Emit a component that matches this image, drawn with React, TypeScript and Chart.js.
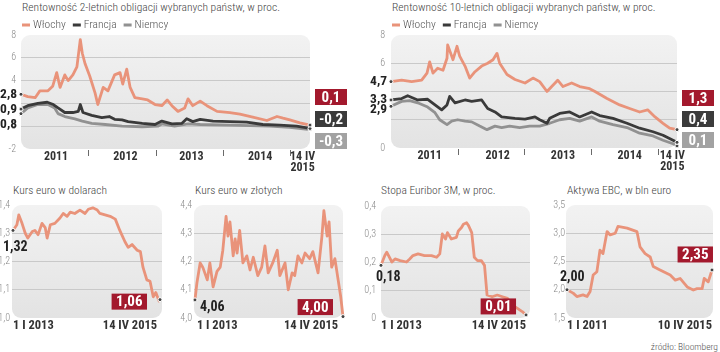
import React, { useEffect, useRef } from "react";
import { Chart, registerables } from "chart.js";

Chart.register(...registerables);

const FONT = "'Roboto Condensed', 'DejaVu Sans Condensed', sans-serif";

// ---------- colours ----------
const C_IT = "#e9937a";
const C_FR = "#3a3a3a";
const C_DE = "#919191";
const B_IT = "#a3192d";
const B_FR = "#3b3b3b";
const B_DE = "#a2a2a2";

const SERIES_LABELS = ["Włochy", "Francja", "Niemcy"];

// ---------- 2-year yields (x = fractional year, y = %) ----------
const IT2 = [
  [2011.0, 2.8], [2011.1, 2.6], [2011.21, 2.5], [2011.28, 3.1], [2011.4, 3.1], [2011.47, 3.5],
  [2011.53, 4.7], [2011.58, 3.4], [2011.65, 4.5], [2011.7, 4.0], [2011.77, 4.5], [2011.83, 5.2],
  [2011.88, 7.6], [2011.91, 6.4], [2011.95, 5.5], [2012.02, 4.4], [2012.1, 2.9], [2012.14, 1.9],
  [2012.22, 3.4], [2012.29, 3.1], [2012.39, 4.5], [2012.47, 4.7], [2012.51, 3.7], [2012.57, 5.0],
  [2012.62, 3.4], [2012.69, 2.5], [2012.8, 2.4], [2012.88, 2.3], [2012.99, 1.9], [2013.09, 1.8],
  [2013.17, 2.3], [2013.24, 1.8], [2013.33, 1.3], [2013.43, 1.6], [2013.48, 2.4], [2013.55, 1.8],
  [2013.66, 2.2], [2013.76, 1.8], [2013.91, 1.3], [2014.1, 1.2], [2014.25, 1.05], [2014.44, 0.8],
  [2014.65, 0.5], [2014.8, 0.85], [2014.89, 0.7], [2014.99, 0.55], [2015.14, 0.3], [2015.29, 0.1],
];
const FR2 = [
  [2011.0, 1.5], [2011.1, 1.8], [2011.25, 2.0], [2011.39, 2.1], [2011.48, 1.9], [2011.55, 1.6],
  [2011.65, 1.2], [2011.77, 1.2], [2011.85, 1.3], [2011.88, 1.9], [2011.92, 1.2], [2012.05, 0.95],
  [2012.2, 0.75], [2012.31, 0.85], [2012.39, 0.6], [2012.5, 0.55], [2012.59, 0.4], [2012.8, 0.25],
  [2012.99, 0.15], [2013.09, 0.45], [2013.24, 0.2], [2013.39, 0.25], [2013.46, 0.65], [2013.55, 0.4],
  [2013.66, 0.6], [2013.85, 0.45], [2014.1, 0.4], [2014.35, 0.35], [2014.59, 0.15], [2014.84, 0.1],
  [2015.09, 0.0], [2015.29, -0.2],
];
const DE2 = [
  [2011.0, 1.1], [2011.1, 1.6], [2011.25, 1.9], [2011.4, 1.9], [2011.5, 1.6], [2011.55, 1.1],
  [2011.65, 0.85], [2011.8, 0.65], [2011.91, 0.45], [2012.05, 0.25], [2012.25, 0.15], [2012.5, 0.0],
  [2012.8, -0.05], [2013.03, 0.0], [2013.09, 0.2], [2013.28, 0.0], [2013.48, 0.2], [2013.66, 0.15],
  [2014.1, 0.1], [2014.4, 0.05], [2014.69, 0.0], [2014.99, -0.1], [2015.29, -0.3],
];
const START2 = ["2,8", "0,9", "0,8"];
const END2 = ["0,1", "-0,2", "-0,3"];

// ---------- 10-year yields ----------
const IT10 = [
  [2011.0, 4.7], [2011.16, 4.8], [2011.31, 4.7], [2011.46, 4.8], [2011.54, 5.3], [2011.58, 6.1],
  [2011.63, 5.3], [2011.7, 5.65], [2011.78, 5.5], [2011.84, 6.35], [2011.85, 7.3], [2011.93, 6.25],
  [2011.99, 7.2], [2012.03, 6.5], [2012.11, 5.8], [2012.18, 4.95], [2012.26, 5.4], [2012.36, 5.8],
  [2012.45, 6.0], [2012.53, 6.25], [2012.59, 6.7], [2012.63, 6.0], [2012.74, 5.2], [2012.86, 4.85],
  [2013.01, 4.6], [2013.13, 4.95], [2013.23, 4.7], [2013.34, 4.0], [2013.5, 4.8], [2013.58, 4.35],
  [2013.71, 4.6], [2013.83, 4.35], [2013.98, 4.2], [2014.06, 4.0], [2014.24, 3.5], [2014.43, 3.05],
  [2014.58, 2.8], [2014.73, 2.55], [2014.85, 2.7], [2014.96, 2.2], [2015.08, 1.75], [2015.18, 1.4],
  [2015.29, 1.3],
];
const FR10 = [
  [2011.0, 3.4], [2011.16, 3.5], [2011.25, 3.7], [2011.4, 3.4], [2011.55, 3.45], [2011.66, 3.05],
  [2011.76, 2.7], [2011.84, 3.05], [2011.88, 3.65], [2011.96, 3.2], [2012.11, 3.4], [2012.21, 3.3],
  [2012.36, 3.4], [2012.45, 2.8], [2012.56, 2.55], [2012.66, 2.2], [2012.86, 2.1], [2013.01, 2.05],
  [2013.16, 2.2], [2013.23, 2.0], [2013.34, 1.75], [2013.38, 2.1], [2013.53, 2.45], [2013.68, 2.55],
  [2013.83, 2.2], [2014.01, 2.55], [2014.13, 2.3], [2014.33, 2.1], [2014.54, 1.75], [2014.73, 1.4],
  [2014.93, 1.15], [2015.08, 0.9], [2015.23, 0.55], [2015.29, 0.4],
];
const DE10 = [
  [2011.0, 2.95], [2011.16, 3.3], [2011.28, 3.35], [2011.4, 3.2], [2011.55, 2.9], [2011.66, 2.5],
  [2011.73, 2.0], [2011.84, 1.65], [2011.91, 1.9], [2012.0, 2.0], [2012.11, 1.9], [2012.21, 1.85],
  [2012.33, 1.55], [2012.44, 1.3], [2012.56, 1.55], [2012.66, 1.45], [2012.78, 1.55], [2012.93, 1.45],
  [2013.08, 1.55], [2013.23, 1.55], [2013.38, 1.75], [2013.53, 2.0], [2013.68, 2.1], [2013.83, 1.9],
  [2014.01, 2.2], [2014.13, 1.9], [2014.33, 1.65], [2014.54, 1.45], [2014.73, 1.05], [2014.93, 0.85],
  [2015.08, 0.55], [2015.23, 0.3], [2015.29, 0.15],
];
const START10 = ["4,7", "3,3", "2,9"];
const END10 = ["1,3", "0,4", "0,1"];

// ---------- EUR/USD ----------
const EURUSD = [
  [2013.0, 1.31], [2013.06, 1.33], [2013.09, 1.365], [2013.14, 1.335], [2013.19, 1.3], [2013.23, 1.283],
  [2013.3, 1.306], [2013.34, 1.31], [2013.39, 1.295], [2013.45, 1.335], [2013.5, 1.32], [2013.53, 1.283],
  [2013.58, 1.33], [2013.65, 1.335], [2013.73, 1.354], [2013.78, 1.37], [2013.84, 1.36], [2013.89, 1.375],
  [2013.96, 1.37], [2014.04, 1.382], [2014.12, 1.37], [2014.17, 1.385], [2014.24, 1.39], [2014.31, 1.382],
  [2014.35, 1.37], [2014.43, 1.365], [2014.51, 1.36], [2014.59, 1.35], [2014.66, 1.31], [2014.74, 1.27],
  [2014.79, 1.25], [2014.85, 1.26], [2014.93, 1.24], [2014.98, 1.235], [2015.02, 1.18], [2015.08, 1.135],
  [2015.13, 1.13], [2015.18, 1.075], [2015.22, 1.09], [2015.27, 1.06], [2015.285, 1.065],
];
// ---------- EUR/PLN ----------
const EURPLN = [
  [2013.0, 4.064], [2013.03, 4.124], [2013.08, 4.195], [2013.12, 4.18], [2013.19, 4.135], [2013.23, 4.195],
  [2013.28, 4.11], [2013.34, 4.165], [2013.39, 4.18], [2013.43, 4.24], [2013.48, 4.36], [2013.51, 4.29],
  [2013.54, 4.34], [2013.59, 4.22], [2013.62, 4.28], [2013.65, 4.23], [2013.69, 4.31], [2013.74, 4.195],
  [2013.8, 4.22], [2013.85, 4.17], [2013.9, 4.215], [2013.97, 4.15], [2014.03, 4.18], [2014.08, 4.255],
  [2014.13, 4.16], [2014.2, 4.195], [2014.27, 4.24], [2014.31, 4.15], [2014.39, 4.195], [2014.44, 4.1],
  [2014.5, 4.16], [2014.54, 4.15], [2014.59, 4.22], [2014.65, 4.195], [2014.7, 4.23], [2014.77, 4.21],
  [2014.82, 4.235], [2014.9, 4.16], [2014.96, 4.29], [2014.99, 4.38], [2015.04, 4.29], [2015.07, 4.34],
  [2015.11, 4.18], [2015.16, 4.21], [2015.21, 4.135], [2015.25, 4.075], [2015.285, 4.005],
];
// ---------- Euribor 3M ----------
const EURIBOR = [
  [2013.0, 0.188], [2013.06, 0.223], [2013.09, 0.235], [2013.17, 0.2], [2013.22, 0.211], [2013.3, 0.205],
  [2013.4, 0.2], [2013.45, 0.211], [2013.5, 0.223], [2013.58, 0.229], [2013.68, 0.223], [2013.79, 0.223],
  [2013.87, 0.217], [2013.92, 0.229], [2013.96, 0.3], [2014.01, 0.282], [2014.04, 0.305], [2014.1, 0.282],
  [2014.18, 0.288], [2014.21, 0.311], [2014.26, 0.323], [2014.29, 0.335], [2014.34, 0.34], [2014.37, 0.33],
  [2014.42, 0.305], [2014.46, 0.217], [2014.51, 0.205], [2014.57, 0.205], [2014.62, 0.188], [2014.66, 0.082],
  [2014.74, 0.076], [2014.82, 0.082], [2014.9, 0.076], [2014.98, 0.07], [2015.05, 0.047], [2015.13, 0.035],
  [2015.21, 0.023], [2015.27, 0.011],
];
// ---------- ECB assets ----------
const ECB = [
  [2011.0, 2.0], [2011.18, 1.94], [2011.29, 1.88], [2011.47, 1.91], [2011.59, 1.88], [2011.68, 1.97],
  [2011.77, 2.26], [2011.88, 2.32], [2011.97, 2.7], [2012.06, 2.64], [2012.18, 3.03], [2012.27, 2.97],
  [2012.42, 3.0], [2012.5, 3.12], [2012.77, 3.09], [2013.06, 3.03], [2013.15, 2.76], [2013.3, 2.64],
  [2013.45, 2.58], [2013.54, 2.41], [2013.74, 2.35], [2014.04, 2.26], [2014.19, 2.17], [2014.33, 2.2],
  [2014.54, 2.05], [2014.72, 1.995], [2014.83, 2.02], [2014.98, 2.02], [2015.04, 2.2], [2015.16, 2.14],
  [2015.27, 2.35],
];

// ---------- ticks ----------
const YT_2Y = [-2, 0, 2, 4, 6, 8];
const YL_2Y = ["-2", "0", "", "4", "6", "8"];
const YT_10Y = [0, 2, 4, 6, 8];
const YL_10Y = ["0", "", "", "6", "8"];
const XT_2Y = [2011.52, 2012.55, 2013.53, 2014.55, 2015.18];
const XT_10Y = [2011.58, 2012.6, 2013.58, 2014.58, 2015.22];
const XL_TOP: (string | string[])[] = ["2011", "2012", "2013", "2014", ["14 IV", "2015"]];
const YEAR_BOUNDARIES = [2012, 2013, 2014, 2015];

const YT_USD = [1.0, 1.1, 1.2, 1.3, 1.4];
const YL_USD = ["1,0", "1,1", "1,2", "1,3", "1,4"];
const YT_PLN = [4.0, 4.1, 4.2, 4.3, 4.4];
const YL_PLN = ["4,0", "4,1", "4,2", "4,3", "4,4"];
const YT_EUR = [0, 0.1, 0.2, 0.3, 0.4];
const YL_EUR = ["0", "0,1", "0,2", "0,3", "0,4"];
const YT_ECB = [1.5, 2.0, 2.5, 3.0, 3.5];
const YL_ECB = ["1,5", "2,0", "2,5", "3,0", "3,5"];

type Pt = number[];
type Series = { label: string; data: Pt[]; color: string };
type Spec = {
  box: { x: number; y: number; w: number; h: number };
  area: { l: number; t: number; r: number; b: number };
  series: Series[];
  yMin: number; yMax: number; yTicks: number[]; yLabels: string[]; yGrid: number[]; yPad: number;
  xMin: number; xMax: number; xTicks: number[]; xLabels: (string | string[])[];
  top: boolean;
  marks: any;
};

// ---------- plugins ----------
const bgPlugin = {
  id: "plotBg",
  beforeDraw(chart: any) {
    const { ctx, chartArea: a } = chart;
    const g = ctx.createLinearGradient(0, a.top, 0, a.bottom);
    g.addColorStop(0, "#f2f2f2");
    g.addColorStop(1, "#e3e3e3");
    ctx.save();
    ctx.fillStyle = g;
    ctx.beginPath();
    ctx.roundRect(a.left, a.top, a.right - a.left, a.bottom - a.top, 9);
    ctx.fill();
    ctx.restore();
  },
};

// short tick marks at year boundaries, placed with the x scale
const yearTickPlugin = {
  id: "yearTicks",
  afterDraw(chart: any, _args: any, opts: any) {
    if (!opts || !opts.values) return;
    const { ctx, chartArea: a } = chart;
    const xs = chart.scales.x;
    ctx.save();
    ctx.strokeStyle = "#6a6a6a";
    ctx.lineWidth = 1;
    opts.values.forEach((v: number) => {
      const px = Math.round(xs.getPixelForValue(v)) + 0.5;
      ctx.beginPath();
      ctx.moveTo(px, a.bottom + 1);
      ctx.lineTo(px, a.bottom + 7);
      ctx.stroke();
    });
    ctx.restore();
  },
};

const legendPlugin = {
  id: "miniLegend",
  afterDraw(chart: any, _args: any, opts: any) {
    if (!opts || !opts.show) return;
    const { ctx, chartArea: a } = chart;
    let x = a.left + 1;
    const y = a.top - 10;
    ctx.save();
    ctx.font = `300 11.5px ${FONT}`;
    ctx.textBaseline = "middle";
    ctx.textAlign = "left";
    chart.data.datasets.forEach((ds: any) => {
      ctx.fillStyle = ds.borderColor;
      ctx.fillRect(x, y - 1.5, 8, 3);
      x += 11;
      ctx.fillStyle = "#555";
      ctx.fillText(ds.label, x, y);
      x += ctx.measureText(ds.label).width + 7;
    });
    ctx.restore();
  },
};

function badge(ctx: any, text: string, right: number, cy: number, color: string, fixedW?: number) {
  ctx.font = `700 15px ${FONT}`;
  const w = fixedW || ctx.measureText(text).width + 9;
  const h = 16;
  ctx.fillStyle = color;
  ctx.fillRect(right - w, cy - h / 2, w, h);
  ctx.fillStyle = "#fff";
  ctx.textAlign = "center";
  ctx.textBaseline = "middle";
  ctx.fillText(text, right - w / 2, cy + 1);
}

const marksPlugin = {
  id: "valueMarks",
  afterDatasetsDraw(chart: any, _args: any, o: any) {
    if (!o || !o.mode) return;
    const { ctx, chartArea: a } = chart;
    const ys = chart.scales.y;
    ctx.save();
    if (o.mode === "stack") {
      let prev = -1e9;
      chart.data.datasets.forEach((ds: any, i: number) => {
        let y = ys.getPixelForValue(ds.data[0].y);
        y = Math.max(y, prev + o.minGap);
        prev = y;
        ctx.font = `700 13.5px ${FONT}`;
        ctx.fillStyle = "#222";
        ctx.textAlign = "right";
        ctx.textBaseline = "middle";
        ctx.fillText(o.startLabels[i], a.left - 4, y);
      });
      const n = o.endLabels.length;
      o.endLabels.forEach((t: string, i: number) => {
        const cy = a.bottom - (n - 1 - i) * o.pitch - 8;
        badge(ctx, t, a.right + 5 + 32, cy, o.colors[i], 32);
      });
    } else {
      const meta = chart.getDatasetMeta(0);
      const p0 = meta.data[0];
      const pN = meta.data[meta.data.length - 1];
      ctx.font = `700 14px ${FONT}`;
      ctx.fillStyle = "#222";
      ctx.textAlign = "left";
      ctx.textBaseline = "middle";
      ctx.fillText(o.startLabel, p0.x + o.sdx, p0.y + o.sdy);
      badge(ctx, o.endLabel, pN.x + o.bdx, pN.y + o.bdy, B_IT);
    }
    ctx.restore();
  },
};

function buildConfig(s: Spec): any {
  const yWidth = s.area.l - s.box.x;
  const xHeight = s.box.y + s.box.h - s.area.b;
  return {
    type: "line",
    data: {
      datasets: s.series.map((ser) => ({
        label: ser.label,
        data: ser.data.map((p) => ({ x: p[0], y: p[1] })),
        borderColor: ser.color,
        backgroundColor: ser.color,
        borderWidth: 2.8,
        borderJoinStyle: "round",
        tension: 0,
        clip: false,
        pointRadius: (c: any) => (c.dataIndex === 0 || c.dataIndex === ser.data.length - 1 ? 2 : 0),
        pointHoverRadius: 0,
        pointBackgroundColor: "#444",
        pointBorderColor: "#fff",
        pointBorderWidth: 1,
      })),
    },
    options: {
      responsive: false,
      animation: false,
      devicePixelRatio: 1,
      events: [],
      layout: {
        padding: { left: 0, top: s.area.t - s.box.y, right: s.box.x + s.box.w - s.area.r, bottom: 0 },
      },
      scales: {
        x: {
          type: "linear",
          min: s.xMin,
          max: s.xMax,
          afterBuildTicks: (sc: any) => {
            sc.ticks = s.xTicks.map((v) => ({ value: v }));
          },
          afterFit: (sc: any) => {
            sc.height = xHeight;
          },
          border: { display: false },
          grid: { display: false, drawTicks: false, tickLength: 0 },
          ticks: {
            autoSkip: false,
            maxRotation: 0,
            minRotation: 0,
            align: s.top ? "center" : "inner",
            padding: s.top ? 3 : 2,
            color: "#333",
            font: { family: FONT, size: s.top ? 12 : 12.5, weight: "bold", lineHeight: s.top ? 0.9 : 1 },
            callback: (_v: any, i: number) => s.xLabels[i],
          },
        },
        y: {
          type: "linear",
          min: s.yMin,
          max: s.yMax,
          afterBuildTicks: (sc: any) => {
            sc.ticks = s.yTicks.map((v) => ({ value: v }));
          },
          afterFit: (sc: any) => {
            sc.width = yWidth;
          },
          border: { display: false },
          grid: {
            drawTicks: false,
            lineWidth: 1,
            color: (c: any) => (s.yGrid.indexOf(c.index) >= 0 ? "#c9c9c9" : "rgba(0,0,0,0)"),
          },
          ticks: {
            padding: s.yPad,
            color: "#8a8a8a",
            font: { family: FONT, size: 10, weight: "300" },
            callback: (_v: any, i: number) => s.yLabels[i],
          },
        },
      },
      plugins: {
        legend: { display: false },
        tooltip: { enabled: false },
        title: { display: false },
        miniLegend: { show: s.top },
        yearTicks: { values: s.top ? YEAR_BOUNDARIES : null },
        valueMarks: s.marks,
      },
    },
    plugins: [bgPlugin, legendPlugin, yearTickPlugin, marksPlugin],
  };
}

const SPECS: Spec[] = [
  {
    box: { x: 0, y: 14, w: 352, h: 161 },
    area: { l: 21, t: 35, r: 310, b: 149 },
    series: [
      { label: SERIES_LABELS[0], data: IT2, color: C_IT },
      { label: SERIES_LABELS[1], data: FR2, color: C_FR },
      { label: SERIES_LABELS[2], data: DE2, color: C_DE },
    ],
    yMin: -2, yMax: 8, yTicks: YT_2Y, yLabels: YL_2Y, yGrid: [1, 2, 3, 4], yPad: 5,
    xMin: 2011.0, xMax: 2015.29, xTicks: XT_2Y, xLabels: XL_TOP, top: true,
    marks: { mode: "stack", startLabels: START2, endLabels: END2, colors: [B_IT, B_FR, B_DE], minGap: 15, pitch: 22 },
  },
  {
    box: { x: 360, y: 14, w: 360, h: 161 },
    area: { l: 391, t: 35, r: 677, b: 148 },
    series: [
      { label: SERIES_LABELS[0], data: IT10, color: C_IT },
      { label: SERIES_LABELS[1], data: FR10, color: C_FR },
      { label: SERIES_LABELS[2], data: DE10, color: C_DE },
    ],
    yMin: 0, yMax: 8, yTicks: YT_10Y, yLabels: YL_10Y, yGrid: [1, 2, 3], yPad: 6,
    xMin: 2011.0, xMax: 2015.29, xTicks: XT_10Y, xLabels: XL_TOP, top: true,
    marks: { mode: "stack", startLabels: START10, endLabels: END10, colors: [B_IT, B_FR, B_DE], minGap: 10, pitch: 21 },
  },
  {
    box: { x: 0, y: 195, w: 180, h: 140 },
    area: { l: 12, t: 205, r: 162, b: 318 },
    series: [{ label: "EUR/USD", data: EURUSD, color: C_IT }],
    yMin: 1.0, yMax: 1.4, yTicks: YT_USD, yLabels: YL_USD, yGrid: [1, 2, 3], yPad: 2,
    xMin: 2012.984, xMax: 2015.316, xTicks: [2013.0, 2015.24], xLabels: ["1 I 2013", "14 IV 2015"], top: false,
    marks: { mode: "single", startLabel: "1,32", endLabel: "1,06", sdx: -10, sdy: 17, bdx: -13, bdy: 2 },
  },
  {
    box: { x: 180, y: 195, w: 180, h: 140 },
    area: { l: 194, t: 205, r: 343, b: 318 },
    series: [{ label: "EUR/PLN", data: EURPLN, color: C_IT }],
    yMin: 4.0, yMax: 4.4, yTicks: YT_PLN, yLabels: YL_PLN, yGrid: [1, 2, 3], yPad: 2,
    xMin: 2012.985, xMax: 2015.285, xTicks: [2013.03, 2015.21], xLabels: ["1 I 2013", "14 IV 2015"], top: false,
    marks: { mode: "single", startLabel: "4,06", endLabel: "4,00", sdx: 5, sdy: 8, bdx: -10, bdy: -9.5 },
  },
  {
    box: { x: 360, y: 195, w: 180, h: 140 },
    area: { l: 381, t: 205, r: 530, b: 318 },
    series: [{ label: "Euribor 3M", data: EURIBOR, color: C_IT }],
    yMin: 0, yMax: 0.4, yTicks: YT_EUR, yLabels: YL_EUR, yGrid: [1, 2, 3], yPad: 5,
    xMin: 2013.0, xMax: 2015.332, xTicks: [2013.0, 2015.27], xLabels: ["1 I 2013", "14 IV 2015"], top: false,
    marks: { mode: "single", startLabel: "0,18", endLabel: "0,01", sdx: -5, sdy: 12, bdx: -10, bdy: -8.5 },
  },
  {
    box: { x: 540, y: 195, w: 180, h: 140 },
    area: { l: 566, t: 205, r: 713, b: 318 },
    series: [{ label: "Aktywa EBC", data: ECB, color: C_IT }],
    yMin: 1.5, yMax: 3.5, yTicks: YT_ECB, yLabels: YL_ECB, yGrid: [1, 2, 3], yPad: 1,
    xMin: 2010.97, xMax: 2015.3, xTicks: [2011.0, 2015.27], xLabels: ["1 I 2011", "10 IV 2015"], top: false,
    marks: { mode: "single", startLabel: "2,00", endLabel: "2,35", sdx: -7, sdy: -12, bdx: 1, bdy: -15.5 },
  },
];

const TITLES = [
  { text: "Rentowność 2-letnich obligacji wybranych państw, w proc.", x: 22, y: 0 },
  { text: "Rentowność 10-letnich obligacji wybranych państw, w proc.", x: 392, y: 0 },
  { text: "Kurs euro w dolarach", x: 13, y: 183 },
  { text: "Kurs euro w złotych", x: 195, y: 183 },
  { text: "Stopa Euribor 3M, w proc.", x: 381, y: 183 },
  { text: "Aktywa EBC, w bln euro", x: 567, y: 183 },
];

function Panel({ spec }: { spec: Spec }) {
  const ref = useRef<HTMLCanvasElement>(null);
  useEffect(() => {
    if (!ref.current) return;
    const chart = new Chart(ref.current, buildConfig(spec));
    return () => chart.destroy();
  }, [spec]);
  return (
    <canvas
      ref={ref}
      width={spec.box.w}
      height={spec.box.h}
      style={{ position: "absolute", left: spec.box.x, top: spec.box.y, width: spec.box.w, height: spec.box.h }}
    />
  );
}

export default function App() {
  return (
    <div style={{ position: "absolute", left: 0, top: 0, width: 720, height: 352, background: "#fff", overflow: "hidden", fontFamily: FONT }}>
      {TITLES.map((t) => (
        <div
          key={t.text}
          style={{ position: "absolute", left: t.x, top: t.y, fontSize: 11.5, fontWeight: 300, lineHeight: "14px", color: "#444", whiteSpace: "nowrap" }}
        >
          {t.text}
        </div>
      ))}
      {SPECS.map((s, i) => (
        <Panel key={i} spec={s} />
      ))}
      <div style={{ position: "absolute", right: 2, top: 341, fontSize: 9.5, fontWeight: 300, lineHeight: "12px", color: "#555" }}>
        źródło: Bloomberg
      </div>
    </div>
  );
}
